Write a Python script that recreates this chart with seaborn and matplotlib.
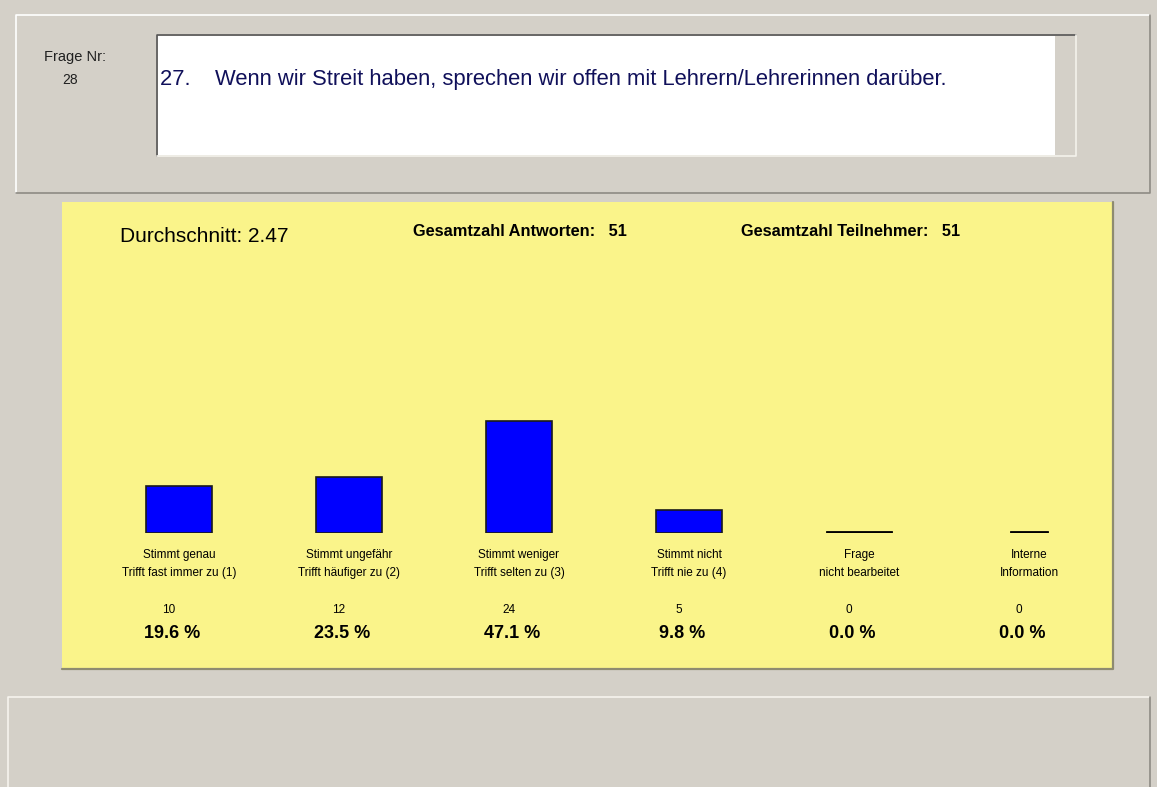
import matplotlib
matplotlib.use("Agg")
import matplotlib.pyplot as plt
import matplotlib.patches as mpatches
import matplotlib.transforms as mtransforms
import seaborn as sns
import pandas as pd

# Data
labels_top = ["Stimmt genau", "Stimmt ungefähr", "Stimmt weniger",
              "Stimmt nicht", "Frage", "Interne"]
labels_bottom = ["Trifft fast immer zu (1)", "Trifft häufiger zu (2)",
                 "Trifft selten zu (3)", "Trifft nie zu (4)",
                 "nicht bearbeitet", "Information"]
counts = [10, 12, 24, 5, 0, 0]
percents = [19.6, 23.5, 47.1, 9.8, 0.0, 0.0]
average = 2.47
total_answers = 51
total_participants = 51
question_no = 28
question_text = "27.    Wenn wir Streit haben, sprechen wir offen mit Lehrern/Lehrerinnen darüber."

W, H = 1157, 787
GREY = "#D4D0C8"
YELLOW = "#FAF48A"
BLUE = "#0000FF"

sns.set_style("white")
plt.rcParams['font.family'] = ['Liberation Sans', 'DejaVu Sans']
plt.rcParams['text.color'] = 'black'

fig = plt.figure(figsize=(W / 100, H / 100), dpi=100)
fig.patch.set_facecolor(GREY)


def fx(x):
    return x / W


def fy(y):
    # y measured from the top of the picture
    return 1 - y / H


def box(x0, y0, x1, y1, face, light=None, dark=None, lw=1.2):
    fig.patches.append(mpatches.Rectangle((fx(x0), fy(y1)), fx(x1 - x0), (y1 - y0) / H,
                                          transform=fig.transFigure, facecolor=face,
                                          edgecolor="none", zorder=-5))
    if light:
        fig.add_artist(plt.Line2D([fx(x0), fx(x0), fx(x1)], [fy(y1), fy(y0), fy(y0)],
                                  transform=fig.transFigure, color=light, lw=lw, zorder=-4))
    if dark:
        fig.add_artist(plt.Line2D([fx(x0), fx(x1), fx(x1)], [fy(y1), fy(y1), fy(y0)],
                                  transform=fig.transFigure, color=dark, lw=lw, zorder=-4))


# window panels
box(16, 15, 1150, 193, GREY, light="#FFFFFF", dark="#8E8B84")
box(157, 35, 1076, 156, GREY, light="#555555", dark="#F4F2EC")
box(158, 36, 1055, 155, "#FFFFFF")
box(62, 202, 1113, 669, YELLOW, dark="#8E8B70", lw=1.6)
box(8, 697, 1150, 800, GREY, light="#F6F4EE", dark="#8E8B84")

fig.text(fx(44), fy(57), "Frage Nr:", fontsize=10.5, color="#202020", va="center")
fig.text(fx(70), fy(80), str(question_no), fontsize=10, color="#202020",
         va="center", ha="center")
fig.text(fx(160), fy(80), question_text, fontsize=15.8, color="#10105A", va="center")

fig.text(fx(120), fy(237), f"Durchschnitt: {average}", fontsize=15, va="center")
fig.text(fx(413), fy(231), f"Gesamtzahl Antworten:   {total_answers}", fontsize=11.8,
         fontweight="bold", va="center")
fig.text(fx(741), fy(231), f"Gesamtzahl Teilnehmer:   {total_participants}", fontsize=11.8,
         fontweight="bold", va="center")

# bar area: baseline at y=533, 100 % = 238 px
ax = fig.add_axes([fx(94), fy(533), fx(1114 - 94), 238 / H])
df = pd.DataFrame({"cat": labels_top, "pct": percents})
sns.barplot(data=df, x="cat", y="pct", color=BLUE, saturation=1, width=0.39,
            edgecolor="#1A1A1A", linewidth=1.2, ax=ax)
ax.set_xlim(-0.5, len(labels_top) - 0.5)
ax.set_ylim(0, 100)
ax.axis("off")
ax.patch.set_alpha(0)

# empty categories are shown as a flat black line
for i, p in enumerate(ax.patches):
    if p.get_height() == 0:
        p.set_height(0.8)
        p.set_facecolor("#000000")
        p.set_edgecolor("#000000")
        p.set_linewidth(0.6)
    if i == len(ax.patches) - 1:
        c = p.get_x() + p.get_width() / 2
        p.set_width(0.22)
        p.set_x(c - 0.11)

trans = mtransforms.blended_transform_factory(ax.transData, fig.transFigure)
for i in range(len(labels_top)):
    ax.text(i, fy(555), labels_top[i], transform=trans, ha="center", va="center",
            fontsize=8.5, clip_on=False)
    ax.text(i, fy(573), labels_bottom[i], transform=trans, ha="center", va="center",
            fontsize=8.5, clip_on=False)
    ax.text(i - 0.06, fy(610), str(counts[i]), transform=trans, ha="center",
            va="center", fontsize=8.5, clip_on=False)
    ax.text(i - 0.04, fy(633), f"{percents[i]:.1f} %", transform=trans, ha="center",
            va="center", fontsize=13, fontweight="bold", clip_on=False)

fig.savefig("out.png", dpi=100, facecolor=fig.get_facecolor())
